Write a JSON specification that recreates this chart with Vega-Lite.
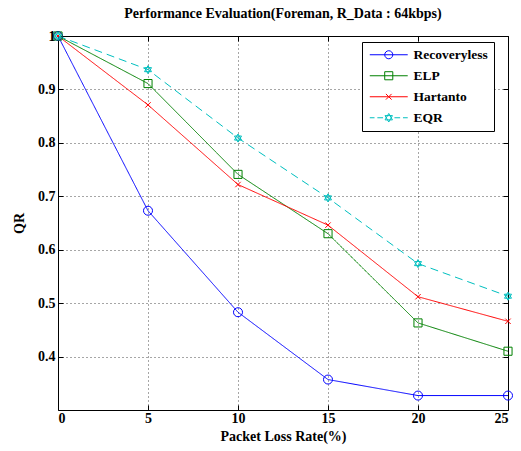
{
  "$schema": "https://vega.github.io/schema/vega-lite/v6.json",
  "autosize": "none",
  "width": 450,
  "height": 374,
  "padding": {"left": 58, "top": 36, "right": 13, "bottom": 41},
  "background": "white",
  "title": {
    "text": "Performance Evaluation(Foreman, R_Data : 64kbps)",
    "font": "Liberation Serif",
    "fontSize": 14,
    "fontWeight": "bold",
    "color": "#000",
    "anchor": "middle",
    "offset": 8
  },
  "config": {
    "view": {"stroke": "#000", "strokeWidth": 1},
    "axis": {
      "labelFont": "Liberation Serif",
      "labelFontSize": 14,
      "labelFontWeight": "bold",
      "labelColor": "#000",
      "titleFont": "Liberation Serif",
      "titleFontSize": 14,
      "titleFontWeight": "bold",
      "titleColor": "#000",
      "domain": false,
      "tickColor": "#000",
      "tickSize": -5,
      "gridColor": "#000",
      "gridDash": [1, 3],
      "gridOpacity": 0.7,
      "gridWidth": 1
    },
    "legend": {
      "labelFont": "Liberation Serif",
      "labelFontSize": 13.5,
      "labelFontWeight": "bold",
      "labelColor": "#000",
      "orient": "none",
      "legendX": 304,
      "legendY": 6,
      "fillColor": "white",
      "strokeColor": "#000",
      "padding": 6,
      "cornerRadius": 0,
      "rowPadding": 6,
      "symbolSize": 90,
      "symbolStrokeWidth": 1,
      "symbolOpacity": 1,
      "symbolOffset": 14,
      "labelOffset": 18
    }
  },
  "data": {
    "values": [
      {"plr": 0, "qr": 1.0, "method": "Recoveryless"},
      {"plr": 5, "qr": 0.673, "method": "Recoveryless"},
      {"plr": 10, "qr": 0.483, "method": "Recoveryless"},
      {"plr": 15, "qr": 0.357, "method": "Recoveryless"},
      {"plr": 20, "qr": 0.327, "method": "Recoveryless"},
      {"plr": 25, "qr": 0.327, "method": "Recoveryless"},
      {"plr": 0, "qr": 1.0, "method": "ELP"},
      {"plr": 5, "qr": 0.911, "method": "ELP"},
      {"plr": 10, "qr": 0.741, "method": "ELP"},
      {"plr": 15, "qr": 0.63, "method": "ELP"},
      {"plr": 20, "qr": 0.463, "method": "ELP"},
      {"plr": 25, "qr": 0.41, "method": "ELP"},
      {"plr": 0, "qr": 1.0, "method": "Hartanto"},
      {"plr": 5, "qr": 0.871, "method": "Hartanto"},
      {"plr": 10, "qr": 0.722, "method": "Hartanto"},
      {"plr": 15, "qr": 0.646, "method": "Hartanto"},
      {"plr": 20, "qr": 0.512, "method": "Hartanto"},
      {"plr": 25, "qr": 0.466, "method": "Hartanto"},
      {"plr": 0, "qr": 1.0, "method": "EQR"},
      {"plr": 5, "qr": 0.937, "method": "EQR"},
      {"plr": 10, "qr": 0.809, "method": "EQR"},
      {"plr": 15, "qr": 0.697, "method": "EQR"},
      {"plr": 20, "qr": 0.574, "method": "EQR"},
      {"plr": 25, "qr": 0.513, "method": "EQR"}
    ]
  },
  "resolve": {"axis": {"x": "independent", "y": "independent"}},
  "layer": [
    {
      "mark": {"type": "line", "strokeWidth": 1},
      "encoding": {
        "x": {
          "field": "plr", "type": "quantitative",
          "scale": {"domain": [0, 25], "nice": false},
          "axis": {"values": [0, 5, 10, 15, 20, 25], "title": "Packet Loss Rate(%)", "labelPadding": 6, "titlePadding": 4, "grid": true}
        },
        "y": {
          "field": "qr", "type": "quantitative",
          "scale": {"domain": [0.3, 1.0], "nice": false, "zero": false},
          "axis": {"values": [0.4, 0.5, 0.6, 0.7, 0.8, 0.9, 1.0], "format": ".1~f", "title": "QR", "labelPadding": 8, "titlePadding": 11, "grid": true}
        },
        "detail": {"field": "method", "type": "nominal"},
        "color": {
          "condition": [
            {"test": "datum.method == 'Recoveryless'", "value": "#0000ff"},
            {"test": "datum.method == 'ELP'", "value": "#008000"},
            {"test": "datum.method == 'Hartanto'", "value": "#ff0000"}
          ],
          "value": "#00bfbf"
        },
        "strokeDash": {
          "condition": {"test": "datum.method == 'EQR'", "value": [8, 5]},
          "value": [1, 0]
        }
      }
    },
    {
      "mark": {"type": "point", "filled": false, "strokeWidth": 1, "size": 81, "opacity": 1},
      "encoding": {
        "x": {"field": "plr", "type": "quantitative", "axis": null},
        "y": {"field": "qr", "type": "quantitative", "axis": null},
        "color": {
          "condition": [
            {"test": "datum.method == 'Recoveryless'", "value": "#0000ff"},
            {"test": "datum.method == 'ELP'", "value": "#008000"},
            {"test": "datum.method == 'Hartanto'", "value": "#ff0000"}
          ],
          "value": "#00bfbf"
        },
        "shape": {
          "condition": [
            {"test": "datum.method == 'Recoveryless'", "value": "circle"},
            {"test": "datum.method == 'ELP'", "value": "M-0.9,-0.9H0.9V0.9H-0.9Z"},
            {"test": "datum.method == 'Hartanto'", "value": "M-0.6,-0.6L0.6,0.6M-0.6,0.6L0.6,-0.6"}
          ],
          "value": "M0,-0.9L0.78,0.45L-0.78,0.45ZM0,0.9L0.78,-0.45L-0.78,-0.45Z"
        }
      }
    },
    {
      "transform": [{"filter": "false"}],
      "mark": {"type": "point", "filled": false, "strokeWidth": 1},
      "encoding": {
        "x": {"field": "plr", "type": "quantitative", "axis": null},
        "y": {"field": "qr", "type": "quantitative", "axis": null},
        "color": {
          "field": "method", "type": "nominal",
          "scale": {"domain": ["Recoveryless", "ELP", "Hartanto", "EQR"], "range": ["#0000ff", "#008000", "#ff0000", "#00bfbf"]},
          "legend": {"title": null}
        },
        "shape": {
          "field": "method", "type": "nominal",
          "scale": {"domain": ["Recoveryless", "ELP", "Hartanto", "EQR"], "range": [
            "M-4,0H4M0.85,0A0.85,0.85 0 1 1 -0.85,0A0.85,0.85 0 1 1 0.85,0",
            "M-4,0H4M-0.85,-0.85H0.85V0.85H-0.85Z",
            "M-4,0H4M-0.6,-0.6L0.6,0.6M-0.6,0.6L0.6,-0.6",
            "M-4,0H-3M-2.4,0H-1.2M1.2,0H2.4M3,0H4M0,-0.9L0.78,0.45L-0.78,0.45ZM0,0.9L0.78,-0.45L-0.78,-0.45Z"
          ]},
          "legend": {"title": null}
        }
      }
    },
    {
      "mark": {"type": "rule", "opacity": 0},
      "encoding": {
        "x": {"field": "plr", "type": "quantitative", "axis": {"orient": "top", "values": [0, 5, 10, 15, 20, 25], "labels": false, "title": null, "grid": false}},
        "y": {"field": "qr", "type": "quantitative", "axis": {"orient": "right", "values": [0.4, 0.5, 0.6, 0.7, 0.8, 0.9, 1.0], "labels": false, "title": null, "grid": false}}
      }
    }
  ]
}
